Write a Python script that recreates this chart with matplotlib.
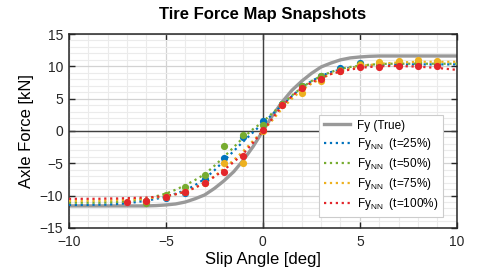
import numpy as np
import matplotlib
matplotlib.use("Agg")
import matplotlib.pyplot as plt

plt.rcParams['font.family'] = ['Liberation Sans', 'DejaVu Sans']
plt.rcParams['mathtext.fontset'] = 'custom'
plt.rcParams['mathtext.rm'] = 'Liberation Sans'

# ---------------------------------------------------------------------------
# data
# ---------------------------------------------------------------------------
slip_line = np.arange(-10, 10.01, 0.5)

fy_true = [-11.6, -11.6, -11.6, -11.6, -11.6, -11.6, -11.6, -11.6, -11.6,
           -11.55, -11.45, -11.3, -11.0, -10.5, -9.9, -8.9, -7.7, -6.3,
           -4.5, -2.4, 0.0, 2.4, 4.5, 6.3, 7.7, 8.9, 9.9, 10.5, 11.0, 11.3,
           11.45, 11.55, 11.6, 11.6, 11.6, 11.6, 11.6, 11.6, 11.6, 11.6, 11.6]

fy_nn_25 = [-11.45, -11.45, -11.45, -11.4, -11.4, -11.3, -11.2, -11.0,
            -10.8, -10.5, -10.2, -9.7, -9.2, -8.4, -7.4, -6.1, -4.6, -3.1,
            -1.6, -0.2, 1.2, 2.6, 4.0, 5.4, 6.7, 7.7, 8.5, 9.1, 9.5, 9.8,
            10.0, 10.15, 10.25, 10.3, 10.3, 10.3, 10.3, 10.3, 10.3, 10.3, 10.3]

fy_nn_50 = [-11.1, -11.1, -11.1, -11.1, -11.05, -11.0, -10.9, -10.7,
            -10.5, -10.1, -9.7, -9.1, -8.4, -7.6, -6.7, -5.4, -4.0, -2.5,
            -1.0, 0.3, 1.4, 2.8, 4.1, 5.5, 6.7, 7.7, 8.5, 9.1, 9.6, 9.9,
            10.1, 10.25, 10.35, 10.4, 10.4, 10.4, 10.4, 10.4, 10.4, 10.4, 10.4]

fy_nn_75 = [-10.8, -10.8, -10.8, -10.8, -10.75, -10.7, -10.65, -10.55,
            -10.45, -10.3, -10.1, -9.8, -9.4, -8.8, -8.0, -7.0, -5.8, -4.5,
            -3.1, -1.5, 0.0, 1.7, 3.5, 5.0, 6.3, 7.3, 8.1, 8.8, 9.3, 9.7,
            10.0, 10.2, 10.4, 10.5, 10.6, 10.65, 10.7, 10.7, 10.7, 10.7, 10.7]

fy_nn_100 = [-10.5, -10.5, -10.5, -10.5, -10.45, -10.45, -10.4, -10.35,
             -10.3, -10.2, -10.05, -9.8, -9.4, -8.8, -8.0, -7.1, -6.0, -4.8,
             -3.5, -1.8, 0.0, 2.0, 3.9, 5.4, 6.6, 7.5, 8.2, 8.8, 9.2, 9.5,
             9.75, 9.9, 10.0, 10.05, 10.05, 10.0, 9.95, 9.85, 9.75, 9.6, 9.45]

slip_pts = np.arange(-6, 10)
pts_25 = [-10.9, -10.4, -9.6, -7.5, -4.2, -1.0, 1.55, 4.1, 6.9, 8.5, 9.7,
          10.45, 10.35, 10.4, 10.4, 10.4]
pts_50 = [-11.2, -9.9, -8.6, -6.8, -2.4, -0.6, 0.9, 4.1, 6.9, 8.5, 9.5,
          10.3, 10.5, 10.7, 10.6, 10.6]
pts_75 = [-10.9, -10.2, -9.5, -8.0, -4.9, -5.0, 0.0, 4.0, 5.8, 7.8, 9.2,
          10.2, 10.6, 10.9, 11.0, 10.9]
slip_pts_100 = np.arange(-7, 10)
pts_100 = [-11.0, -10.8, -10.25, -9.4, -8.0, -6.3, -3.9, 0.15, 4.0, 6.6,
           8.1, 9.2, 9.85, 9.95, 10.05, 10.05, 10.05]

labels = ['(t=25%)', '(t=50%)', '(t=75%)', '(t=100%)']
colors = ['#0072BD', '#77AC30', '#EDB120', '#E3262B']

# ---------------------------------------------------------------------------
fig = plt.figure(figsize=(4.85, 2.7), dpi=100)
ax = fig.add_axes([0.142, 0.156, 0.800, 0.718])

ax.set_xlim(-10, 10)
ax.set_ylim(-15, 15)
ax.set_xticks(np.arange(-10, 11, 5))
ax.set_yticks(np.arange(-15, 16, 5))
ax.set_xticks(np.arange(-10, 11, 1), minor=True)
ax.set_yticks(np.arange(-15, 16, 1), minor=True)
ax.grid(which='minor', color='#ebebeb', lw=0.8)
ax.grid(which='major', color='#d2d2d2', lw=0.9)
ax.set_axisbelow(True)
ax.tick_params(which='major', direction='in', length=4, width=1,
               top=True, right=True, labelsize=10, colors='#262626')
ax.tick_params(axis='x', which='major', pad=5)
ax.tick_params(axis='y', which='major', pad=4)
ax.tick_params(which='minor', length=0)
for sp in ax.spines.values():
    sp.set_linewidth(1.1)
    sp.set_color('#262626')

ax.axhline(0, color='#404040', lw=1.0, zorder=1.5)
ax.axvline(0, color='#404040', lw=1.0, zorder=1.5)

ax.plot(slip_line, fy_true, color='#999999', lw=2.4, label='Fy (True)',
        zorder=2)

lines = [fy_nn_25, fy_nn_50, fy_nn_75, fy_nn_100]
for fy, c, lab in zip(lines, colors, labels):
    ax.plot(slip_line, fy, ls=':', color=c, lw=1.6,
            label=r'Fy$_{\rm NN}$  ' + lab, zorder=3)

pts_x = [slip_pts, slip_pts, slip_pts, slip_pts_100]
pts_y = [pts_25, pts_50, pts_75, pts_100]
for px, py, c in zip(pts_x, pts_y, colors):
    ax.plot(px, py, 'o', color=c, ms=5.2, mec='none', zorder=4)

ax.set_title('Tire Force Map Snapshots', fontsize=12, fontweight='bold',
             pad=11)
ax.set_xlabel('Slip Angle [deg]', fontsize=12, labelpad=2)
ax.set_ylabel('Axle Force [kN]', fontsize=12, labelpad=4)

leg = ax.legend(loc='lower right', bbox_to_anchor=(0.964, 0.057),
                borderaxespad=0, fontsize=8.5, handlelength=2.2,
                handletextpad=0.6, labelspacing=0.35, borderpad=0.4,
                fancybox=False, framealpha=1, edgecolor='#cccccc')
leg.get_frame().set_linewidth(0.8)

plt.savefig('out.png', dpi=100)
plt.close()
